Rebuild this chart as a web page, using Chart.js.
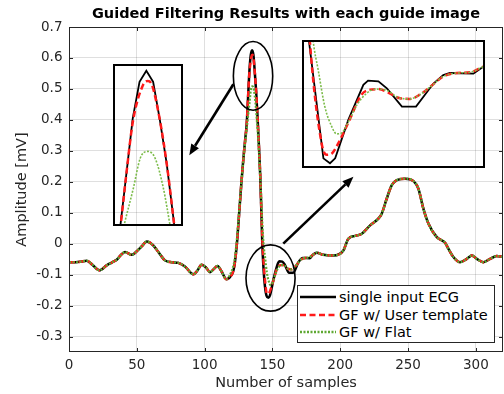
<!DOCTYPE html>
<html>
<head>
<meta charset="utf-8">
<script src="https://cdn.jsdelivr.net/npm/chart.js@4"></script>
<style>
  body { margin: 0; background: #fff; }
  #wrap { position: relative; width: 504px; height: 394px; font-family: "DejaVu Sans", sans-serif; }
  #main { position: absolute; left: 0; top: 0; }
  .inset { position: absolute; border: 2px solid #000; }
  .inset canvas { display: block; }
  #legend {
    position: absolute; left: 297px; top: 285px; width: 196px; height: 56px;
    border: 1px solid #262626; background: #fff;
  }
  .row { position: absolute; left: 0; height: 18px; width: 196px; }
  .row svg { position: absolute; left: 2px; top: 7px; }
  .row span { position: absolute; left: 41px; top: 0; font-size: 14.5px; line-height: 18px; color: #000; white-space: nowrap; }
</style>
</head>
<body>
<div id="wrap">
  <canvas id="main" width="504" height="394"></canvas>
  <div class="inset" style="left:113px; top:64px;"><canvas id="zoomPeak" width="66" height="158"></canvas></div>
  <div class="inset" style="left:302px; top:40px;"><canvas id="zoomS" width="179" height="124"></canvas></div>
  <div id="legend">
    <div class="row" style="top:2px;">
      <svg width="36" height="4"><line x1="0" y1="2" x2="36" y2="2" stroke="#000" stroke-width="2.5"/></svg>
      <span>single input ECG</span>
    </div>
    <div class="row" style="top:20px;">
      <svg width="36" height="4"><line x1="0" y1="2" x2="36" y2="2" stroke="#ff1a1a" stroke-width="2.5" stroke-dasharray="6 3.5"/></svg>
      <span>GF w/ User template</span>
    </div>
    <div class="row" style="top:37px;">
      <svg width="36" height="4"><line x1="0" y1="2" x2="36" y2="2" stroke="#5ea832" stroke-width="2.5" stroke-dasharray="2 1.5"/></svg>
      <span>GF w/ Flat</span>
    </div>
  </div>
</div>

<script>
// axis ticks
const xTicks = [0, 50, 100, 150, 200, 250, 300];
const yTicks = [-0.3, -0.2, -0.1, 0, 0.1, 0.2, 0.3, 0.4, 0.5, 0.6, 0.7];

// baseline before the QRS (all three curves overlap here)
const preX = [0, 5, 9, 13, 17, 22.4, 27.8, 31.5, 35.2, 38, 41.3, 46.2, 51, 54, 57.3, 62.2, 65.9, 70.8, 75.7, 80.6, 85.5, 91.7, 94.5, 97.8, 101, 104, 106.5, 109.5, 112.5, 116];
const preY = [-0.06, -0.06, -0.058, -0.055, -0.067, -0.086, -0.07, -0.061, -0.052, -0.038, -0.027, -0.036, -0.02, -0.007, 0.007, -0.006, -0.027, -0.054, -0.06, -0.062, -0.074, -0.099, -0.088, -0.068, -0.077, -0.092, -0.083, -0.072, -0.09, -0.115];

// QRS region, one pair per curve
const ecgX = [118.7, 121, 122, 123, 124, 125, 126, 127, 128, 129, 130, 131, 132, 133, 134, 135, 136, 137, 138, 139, 140, 141, 142, 142.5, 145.6, 147, 148.1, 150.9, 154.1, 155.1, 157.3, 159.1, 162.3, 165.3, 169, 171.1, 172.5, 177.5, 179.6];
const ecgY = [-0.108, -0.09, -0.07, -0.035, 0.01, 0.07, 0.13, 0.19, 0.245, 0.295, 0.34, 0.385, 0.47, 0.556, 0.609, 0.625, 0.609, 0.553, 0.49, 0.41, 0.32, 0.22, 0.08, 0.001, -0.168, -0.175, -0.168, -0.113, -0.063, -0.057, -0.058, -0.068, -0.094, -0.094, -0.061, -0.049, -0.046, -0.047, -0.037];

const userX = [118.7, 121, 122, 123, 124, 125, 126, 127, 128, 129, 130, 131, 132, 133, 134.55, 135.2, 135.8, 137, 138, 139, 140, 141, 142, 142.7, 145.2, 146.3, 147.4, 149.1, 151.3, 153.7, 155.5, 157.3, 159.1, 161.9, 164, 166.1, 168.3, 171.1, 174, 176.8, 179.6];
const userY = [-0.108, -0.09, -0.07, -0.035, 0.01, 0.07, 0.13, 0.19, 0.245, 0.295, 0.34, 0.385, 0.47, 0.55, 0.605, 0.61, 0.605, 0.553, 0.49, 0.41, 0.32, 0.22, 0.085, 0.001, -0.146, -0.163, -0.161, -0.142, -0.111, -0.077, -0.07, -0.069, -0.073, -0.082, -0.083, -0.077, -0.066, -0.051, -0.046, -0.045, -0.037];

const flatX = [118.7, 121, 122, 123, 124, 125, 126, 127, 128, 129, 130, 131, 131.7, 133.1, 134.1, 135.2, 136.3, 137.5, 138.5, 139.5, 140.5, 141.5, 142.5, 143.4, 144.5, 145.9, 147.4, 148.4, 149.4, 150.9, 152.7, 154.8, 156.9, 159.1, 161.9, 164, 166.1, 168.3, 171.1, 174, 176.8, 179.6];
const flatY = [-0.1, -0.075, -0.055, -0.02, 0.025, 0.08, 0.135, 0.19, 0.24, 0.29, 0.33, 0.37, 0.40, 0.455, 0.498, 0.508, 0.498, 0.455, 0.40, 0.34, 0.26, 0.17, 0.07, 0.001, -0.042, -0.094, -0.123, -0.133, -0.132, -0.116, -0.092, -0.075, -0.069, -0.071, -0.082, -0.083, -0.077, -0.066, -0.051, -0.046, -0.045, -0.037];

// T wave and the rest (all three overlap)
const postX = [182.7, 187.5, 194.9, 202.3, 206, 210.9, 215.9, 222, 228.1, 230.6, 234.3, 238, 241.7, 247.8, 254, 257.6, 261.3, 265, 271.2, 277.3, 279.7, 283.4, 288.3, 293.3, 297, 300.7, 305.5, 310.5, 315.4, 320];
const postY = [-0.029, -0.036, -0.038, -0.022, 0.016, 0.025, 0.032, 0.059, 0.081, 0.097, 0.146, 0.189, 0.205, 0.21, 0.202, 0.178, 0.113, 0.065, 0.021, 0.003, -0.016, -0.043, -0.06, -0.049, -0.038, -0.049, -0.06, -0.049, -0.04, -0.043];

// callouts, in data units
const ellipses = [
  { x: 135.7, y: 0.542, rx: 14.5, ry: 0.111 },
  { x: 148.6, y: -0.111, rx: 18.1, ry: 0.107 },
];
const arrows = [
  { x0: 121.2, y0: 0.515, x1: 88.7, y1: 0.286 },
  { x0: 158, y0: 0.0, x1: 209.7, y1: 0.216 },
];

const FONT = "DejaVu Sans";
const AXIS = "#262626";

function pts(xs, ys) {
  return xs.map((x, i) => ({ x: x, y: ys[i] }));
}

function series(midX, midY) {
  return pts(preX.concat(midX, postX), preY.concat(midY, postY));
}

function makeDatasets(smoothBlack) {
  return [
    {
      data: series(ecgX, ecgY),
      borderColor: "#000000",
      borderWidth: 2.5,
      cubicInterpolationMode: smoothBlack ? "monotone" : "default",
      tension: 0,
      pointRadius: 0,
      order: 3,
    },
    {
      data: series(userX, userY),
      borderColor: "#ff1a1a",
      borderWidth: 2.5,
      borderDash: [6, 3.5],
      cubicInterpolationMode: "monotone",
      pointRadius: 0,
      order: 2,
    },
    {
      data: series(flatX, flatY),
      borderColor: "#5ea832",
      borderWidth: 2.2,
      borderDash: [2, 1.5],
      cubicInterpolationMode: "monotone",
      pointRadius: 0,
      order: 1,
    },
  ];
}

const frame = {
  id: "frame",
  afterDraw(chart) {
    const { ctx, chartArea: a, scales } = chart;
    ctx.save();
    ctx.strokeStyle = AXIS;
    ctx.lineWidth = 1;
    ctx.strokeRect(a.left + 0.5, a.top + 0.5, a.right - a.left - 1, a.bottom - a.top - 1);
    ctx.beginPath();
    xTicks.forEach((v) => {
      const px = Math.round(scales.x.getPixelForValue(v)) + 0.5;
      ctx.moveTo(px, a.bottom);
      ctx.lineTo(px, a.bottom - 4);
      ctx.moveTo(px, a.top);
      ctx.lineTo(px, a.top + 4);
    });
    yTicks.forEach((v) => {
      const py = Math.round(scales.y.getPixelForValue(v)) + 0.5;
      ctx.moveTo(a.left, py);
      ctx.lineTo(a.left + 4, py);
      ctx.moveTo(a.right, py);
      ctx.lineTo(a.right - 4, py);
    });
    ctx.stroke();
    ctx.restore();
  },
};

const callouts = {
  id: "callouts",
  afterDatasetsDraw(chart) {
    const { ctx, scales: { x, y } } = chart;
    ctx.save();
    ctx.strokeStyle = "#000";
    ctx.fillStyle = "#000";
    ctx.lineWidth = 1.6;
    ellipses.forEach((e) => {
      const cx = x.getPixelForValue(e.x);
      const cy = y.getPixelForValue(e.y);
      const rx = Math.abs(x.getPixelForValue(e.x + e.rx) - cx);
      const ry = Math.abs(y.getPixelForValue(e.y + e.ry) - cy);
      ctx.beginPath();
      ctx.ellipse(cx, cy, rx, ry, 0, 0, Math.PI * 2);
      ctx.stroke();
    });
    ctx.lineWidth = 2.6;
    arrows.forEach((r) => {
      const x0 = x.getPixelForValue(r.x0), y0 = y.getPixelForValue(r.y0);
      const x1 = x.getPixelForValue(r.x1), y1 = y.getPixelForValue(r.y1);
      const ang = Math.atan2(y1 - y0, x1 - x0);
      const head = 11, half = 4.5;
      const bx = x1 - head * Math.cos(ang), by = y1 - head * Math.sin(ang);
      ctx.beginPath();
      ctx.moveTo(x0, y0);
      ctx.lineTo(bx, by);
      ctx.stroke();
      ctx.beginPath();
      ctx.moveTo(x1, y1);
      ctx.lineTo(bx + half * Math.sin(ang), by - half * Math.cos(ang));
      ctx.lineTo(bx - half * Math.sin(ang), by + half * Math.cos(ang));
      ctx.closePath();
      ctx.fill();
    });
    ctx.restore();
  },
};

new Chart(document.getElementById("main"), {
  type: "line",
  data: { datasets: makeDatasets(true) },
  options: {
    responsive: false,
    animation: false,
    devicePixelRatio: 1,
    events: [],
    layout: { padding: { left: 0, right: 1, top: 0, bottom: 0 } },
    plugins: {
      legend: { display: false },
      tooltip: { enabled: false },
      title: {
        display: true,
        fullSize: false,
        text: "Guided Filtering Results with each guide image",
        color: "#000",
        font: { family: FONT, size: 14.5, weight: "bold" },
        padding: { top: 6, bottom: 3.6 },
      },
    },
    scales: {
      x: {
        type: "linear",
        min: 0,
        max: 320,
        afterBuildTicks: (s) => { s.ticks = xTicks.map((v) => ({ value: v })); },
        afterFit: (s) => { s.height = 42; },
        grid: { color: "rgba(38,38,38,0.15)", drawTicks: false },
        border: { display: false },
        ticks: {
          color: AXIS,
          padding: 5.5,
          maxRotation: 0,
          font: { family: FONT, size: 13.5 },
          callback: (v) => String(v),
        },
        title: {
          display: true,
          text: "Number of samples",
          color: AXIS,
          font: { family: FONT, size: 14.5 },
          padding: { top: 0, bottom: 2 },
        },
      },
      y: {
        type: "linear",
        min: -0.35,
        max: 0.7,
        afterBuildTicks: (s) => { s.ticks = yTicks.map((v) => ({ value: v })); },
        afterFit: (s) => { s.width = 69; },
        grid: { color: "rgba(38,38,38,0.15)", drawTicks: false },
        border: { display: false },
        ticks: {
          color: AXIS,
          padding: 6.5,
          font: { family: FONT, size: 13.5 },
          callback: (v) => String(Math.round(v * 10) / 10),
        },
        title: {
          display: true,
          text: "Amplitude [mV]",
          color: AXIS,
          font: { family: FONT, size: 14.5 },
          padding: { top: 14, bottom: 0 },
        },
      },
    },
  },
  plugins: [frame, callouts],
});

function zoomChart(id, xMin, xMax, yMin, yMax) {
  const sets = makeDatasets(false);
  sets[1].borderWidth = 2.5;
  sets[2].borderWidth = 1.6;
  sets[2].borderColor = "#7cbc4a";
  sets[0].borderWidth = 1.8;
  new Chart(document.getElementById(id), {
    type: "line",
    data: { datasets: sets },
    options: {
      responsive: false,
      animation: false,
      devicePixelRatio: 1,
      events: [],
      layout: { padding: 0 },
      plugins: { legend: { display: false }, tooltip: { enabled: false }, title: { display: false } },
      scales: {
        x: { type: "linear", display: false, min: xMin, max: xMax },
        y: { type: "linear", display: false, min: yMin, max: yMax },
      },
    },
  });
}

zoomChart("zoomPeak", 130.39, 140.1, 0.4028, 0.6318);
zoomChart("zoomS", 141.47, 179.55, -0.1789, -0.0017);
</script>
</body>
</html>
